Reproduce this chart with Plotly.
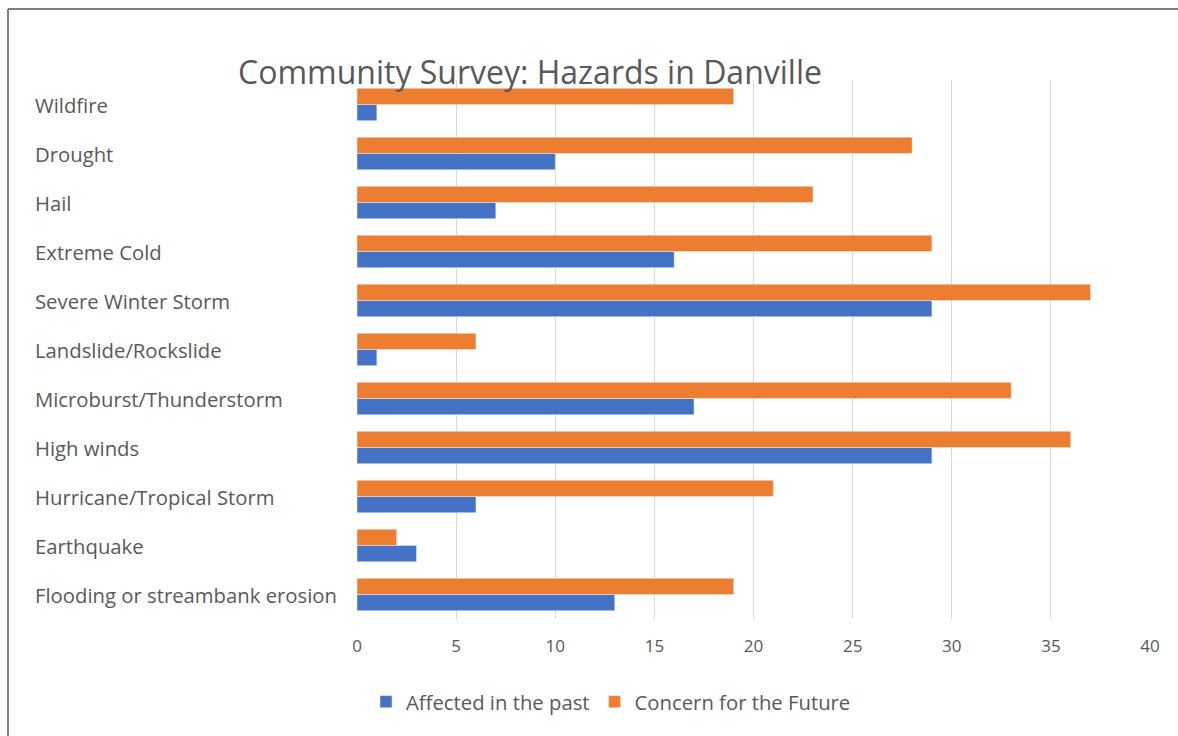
import plotly.graph_objects as go

# Categories listed bottom-to-top
categories = [
    "Flooding or streambank erosion",
    "Earthquake",
    "Hurricane/Tropical Storm",
    "High winds",
    "Microburst/Thunderstorm",
    "Landslide/Rockslide",
    "Severe Winter Storm",
    "Extreme Cold",
    "Hail",
    "Drought",
    "Wildfire",
]
affected_past = [13, 3, 6, 29, 17, 1, 29, 16, 7, 10, 1]
concern_future = [19, 2, 21, 36, 33, 6, 37, 29, 23, 28, 19]
x_ticks = [0, 5, 10, 15, 20, 25, 30, 35, 40]

W, H = 1178, 736
L, R, T, B = 357, 28, 80, 117
pw, ph = W - L - R, H - T - B

def px_x(p):
    return (p - L) / pw

def px_y(p):
    return (H - B - p) / ph

FONT = "Open Sans"
GRAY = "#595959"

fig = go.Figure()
fig.add_trace(go.Bar(y=categories, x=affected_past, orientation="h",
                     name="Affected in the past", marker_color="#4472C4"))
fig.add_trace(go.Bar(y=categories, x=concern_future, orientation="h",
                     name="Concern for the Future", marker_color="#ED7D31"))

annotations = [
    dict(text=c, x=px_x(33), xref="paper", xanchor="left", y=c, yref="y",
         yanchor="middle", showarrow=False, font=dict(family=FONT, size=20.3, color=GRAY))
    for c in categories
]

fig.update_layout(
    width=W, height=H,
    margin=dict(l=L, r=R, t=T, b=B),
    paper_bgcolor="white", plot_bgcolor="white",
    barmode="group", bargap=0.34, bargroupgap=0,
    title=dict(text="Community Survey: Hazards in Danville", x=530 / W, xanchor="center",
               xref="container", y=1 - 73 / H, yanchor="middle", yref="container",
               font=dict(family=FONT, size=32, color=GRAY)),
    xaxis=dict(range=[0, 40], tickvals=x_ticks, showgrid=True, gridcolor="#d9d9d9",
               gridwidth=1, zeroline=False, showline=False, ticks="",
               ticklabelstandoff=15,
               tickfont=dict(family=FONT, size=17, color=GRAY)),
    yaxis=dict(showticklabels=False, showgrid=False, zeroline=False, showline=False,
               categoryorder="array", categoryarray=categories),
    legend=dict(orientation="h", x=px_x(611), xanchor="center", y=px_y(702),
                yanchor="middle", font=dict(family=FONT, size=20.3, color=GRAY),
                itemwidth=30),
    annotations=annotations,
    shapes=[
        dict(type="line", xref="paper", yref="paper", x0=px_x(8), x1=px_x(W + 5),
             y0=px_y(9), y1=px_y(9), line=dict(color="#7f7f7f", width=2)),
        dict(type="line", xref="paper", yref="paper", x0=px_x(8), x1=px_x(8),
             y0=px_y(9), y1=px_y(H + 5), line=dict(color="#7f7f7f", width=2)),
    ],
    showlegend=True,
)

fig.write_html("out.html", config={"displayModeBar": False},
               post_script="document.body.style.margin='0';document.body.style.overflow='hidden';")
